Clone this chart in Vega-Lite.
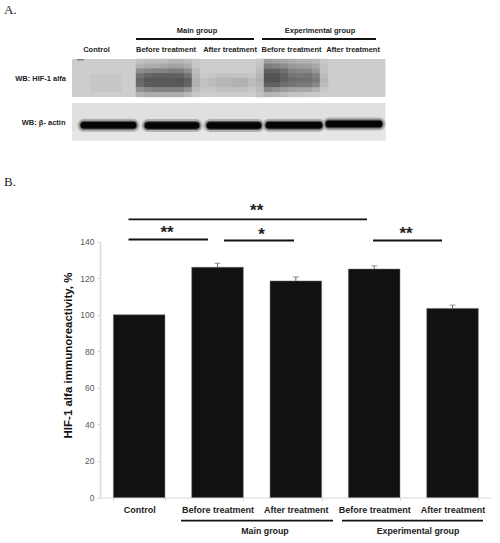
{"$schema":"https://vega.github.io/schema/vega-lite/v6.json","width":500,"height":543,"padding":0,"autosize":{"type":"none"},"background":"white","config":{"view":{"stroke":null}},
"datasets":{
"bars":[{"c":"Control","v":100},{"c":"Before treatment (Main group)","v":126,"hi":128.2},{"c":"After treatment (Main group)","v":118.5,"hi":120.7},{"c":"Before treatment (Experimental group)","v":125,"hi":126.8},{"c":"After treatment (Experimental group)","v":103.5,"hi":105.3}],
"panels":[{"x":72,"x2":385.5,"y":59,"y2":97,"v":45},{"x":90,"x2":122,"y":74,"y2":92,"v":50},{"x":77,"x2":84,"y":59,"y2":60.5,"v":120},{"x":72,"x2":385.5,"y":103,"y2":140.5,"v":28},{"x":72,"x2":385.5,"y":131,"y2":140.5,"v":22}],
"bands":[{"x":84,"x2":133,"y":125.3},{"x":148,"x2":196,"y":125.5},{"x":210,"x2":258,"y":125.5},{"x":269,"x2":319,"y":125.2},{"x":329,"x2":379,"y":124}],
"cells":[
{"x":140,"y":61.4,"v":55},{"x":148,"y":61.4,"v":60},{"x":156,"y":61.4,"v":60},{"x":164,"y":61.4,"v":60},{"x":172,"y":61.4,"v":65},{"x":180,"y":61.4,"v":65},{"x":188,"y":61.4,"v":60},{"x":196,"y":61.4,"v":50},{"x":260,"y":61.4,"v":50},{"x":268,"y":61.4,"v":90},{"x":276,"y":61.4,"v":85},{"x":284,"y":61.4,"v":80},{"x":292,"y":61.4,"v":75},{"x":300,"y":61.4,"v":70},{"x":308,"y":61.4,"v":70},{"x":316,"y":61.4,"v":65},{"x":324,"y":61.4,"v":50},
{"x":140,"y":66.1,"v":70},{"x":148,"y":66.1,"v":75},{"x":156,"y":66.1,"v":75},{"x":164,"y":66.1,"v":80},{"x":172,"y":66.1,"v":85},{"x":180,"y":66.1,"v":85},{"x":188,"y":66.1,"v":75},{"x":196,"y":66.1,"v":50},{"x":260,"y":66.1,"v":55},{"x":268,"y":66.1,"v":120},{"x":276,"y":66.1,"v":115},{"x":284,"y":66.1,"v":105},{"x":292,"y":66.1,"v":95},{"x":300,"y":66.1,"v":90},{"x":308,"y":66.1,"v":90},{"x":316,"y":66.1,"v":80},{"x":324,"y":66.1,"v":55},
{"x":140,"y":70.9,"v":105},{"x":148,"y":70.9,"v":110},{"x":156,"y":70.9,"v":115},{"x":164,"y":70.9,"v":115},{"x":172,"y":70.9,"v":120},{"x":180,"y":70.9,"v":120},{"x":188,"y":70.9,"v":105},{"x":196,"y":70.9,"v":60},{"x":260,"y":70.9,"v":60},{"x":268,"y":70.9,"v":150},{"x":276,"y":70.9,"v":150},{"x":284,"y":70.9,"v":135},{"x":292,"y":70.9,"v":115},{"x":300,"y":70.9,"v":110},{"x":308,"y":70.9,"v":110},{"x":316,"y":70.9,"v":95},{"x":324,"y":70.9,"v":55},
{"x":140,"y":75.6,"v":130},{"x":148,"y":75.6,"v":145},{"x":156,"y":75.6,"v":150},{"x":164,"y":75.6,"v":150},{"x":172,"y":75.6,"v":150},{"x":180,"y":75.6,"v":150},{"x":188,"y":75.6,"v":130},{"x":196,"y":75.6,"v":65},{"x":204,"y":75.6,"v":48},{"x":212,"y":75.6,"v":50},{"x":220,"y":75.6,"v":55},{"x":228,"y":75.6,"v":55},{"x":236,"y":75.6,"v":55},{"x":244,"y":75.6,"v":55},{"x":252,"y":75.6,"v":50},{"x":260,"y":75.6,"v":65},{"x":268,"y":75.6,"v":165},{"x":276,"y":75.6,"v":165},{"x":284,"y":75.6,"v":150},{"x":292,"y":75.6,"v":130},{"x":300,"y":75.6,"v":125},{"x":308,"y":75.6,"v":130},{"x":316,"y":75.6,"v":115},{"x":324,"y":75.6,"v":60},
{"x":140,"y":80.4,"v":145},{"x":148,"y":80.4,"v":160},{"x":156,"y":80.4,"v":160},{"x":164,"y":80.4,"v":160},{"x":172,"y":80.4,"v":160},{"x":180,"y":80.4,"v":165},{"x":188,"y":80.4,"v":150},{"x":196,"y":80.4,"v":70},{"x":204,"y":80.4,"v":55},{"x":212,"y":80.4,"v":60},{"x":220,"y":80.4,"v":65},{"x":228,"y":80.4,"v":65},{"x":236,"y":80.4,"v":70},{"x":244,"y":80.4,"v":72},{"x":252,"y":80.4,"v":60},{"x":260,"y":80.4,"v":70},{"x":268,"y":80.4,"v":165},{"x":276,"y":80.4,"v":165},{"x":284,"y":80.4,"v":150},{"x":292,"y":80.4,"v":140},{"x":300,"y":80.4,"v":135},{"x":308,"y":80.4,"v":135},{"x":316,"y":80.4,"v":125},{"x":324,"y":80.4,"v":65},
{"x":140,"y":85.1,"v":140},{"x":148,"y":85.1,"v":155},{"x":156,"y":85.1,"v":160},{"x":164,"y":85.1,"v":160},{"x":172,"y":85.1,"v":160},{"x":180,"y":85.1,"v":160},{"x":188,"y":85.1,"v":145},{"x":196,"y":85.1,"v":70},{"x":204,"y":85.1,"v":55},{"x":212,"y":85.1,"v":60},{"x":220,"y":85.1,"v":65},{"x":228,"y":85.1,"v":65},{"x":236,"y":85.1,"v":70},{"x":244,"y":85.1,"v":72},{"x":252,"y":85.1,"v":60},{"x":260,"y":85.1,"v":65},{"x":268,"y":85.1,"v":150},{"x":276,"y":85.1,"v":150},{"x":284,"y":85.1,"v":135},{"x":292,"y":85.1,"v":130},{"x":300,"y":85.1,"v":125},{"x":308,"y":85.1,"v":125},{"x":316,"y":85.1,"v":110},{"x":324,"y":85.1,"v":60},
{"x":140,"y":89.9,"v":100},{"x":148,"y":89.9,"v":110},{"x":156,"y":89.9,"v":115},{"x":164,"y":89.9,"v":115},{"x":172,"y":89.9,"v":115},{"x":180,"y":89.9,"v":115},{"x":188,"y":89.9,"v":100},{"x":196,"y":89.9,"v":60},{"x":204,"y":89.9,"v":50},{"x":212,"y":89.9,"v":50},{"x":220,"y":89.9,"v":55},{"x":228,"y":89.9,"v":55},{"x":236,"y":89.9,"v":55},{"x":244,"y":89.9,"v":55},{"x":252,"y":89.9,"v":50},{"x":260,"y":89.9,"v":60},{"x":268,"y":89.9,"v":110},{"x":276,"y":89.9,"v":100},{"x":284,"y":89.9,"v":90},{"x":292,"y":89.9,"v":85},{"x":300,"y":89.9,"v":80},{"x":308,"y":89.9,"v":80},{"x":316,"y":89.9,"v":70},{"x":324,"y":89.9,"v":50},
{"x":140,"y":94.6,"v":70},{"x":148,"y":94.6,"v":75},{"x":156,"y":94.6,"v":75},{"x":164,"y":94.6,"v":75},{"x":172,"y":94.6,"v":75},{"x":180,"y":94.6,"v":75},{"x":188,"y":94.6,"v":65},{"x":196,"y":94.6,"v":50},{"x":260,"y":94.6,"v":55},{"x":268,"y":94.6,"v":70},{"x":276,"y":94.6,"v":65},{"x":284,"y":94.6,"v":60},{"x":292,"y":94.6,"v":55},{"x":300,"y":94.6,"v":55},{"x":308,"y":94.6,"v":50},{"x":316,"y":94.6,"v":50}
],
"brackets":[{"x":136,"x2":254,"y":39},{"x":262,"x2":376,"y":39},{"x":128.5,"x2":367,"y":219.3},{"x":128.5,"x2":208,"y":239.5},{"x":224,"x2":294,"y":240.5},{"x":373,"x2":442,"y":240.5},{"x":181,"x2":333,"y":520.7},{"x":342,"x2":483,"y":520.7}],
"smallText":[{"x":197,"y":31,"t":"Main group"},{"x":320,"y":31,"t":"Experimental group"},{"x":96.5,"y":49.5,"t":"Control"},{"x":166,"y":49.5,"t":"Before treatment"},{"x":230,"y":49.5,"t":"After treatment"},{"x":291.5,"y":49.5,"t":"Before treatment"},{"x":353,"y":49.5,"t":"After treatment"}],
"rowText":[{"x":66,"y":78.5,"t":"WB: HIF-1 alfa"},{"x":65.5,"y":122.5,"t":"WB: β- actin"}],
"groupText":[{"x":265,"y":531,"t":"Main group"},{"x":418,"y":531,"t":"Experimental group"}],
"panelText":[{"x":4,"y":10,"t":"A."},{"x":4,"y":182,"t":"B."}],
"stars":[{"x":256.7,"y":211,"t":"**"},{"x":167,"y":233,"t":"**"},{"x":261.5,"y":235,"t":"*"},{"x":406,"y":234,"t":"**"}]
},
"resolve":{"scale":{"x":"independent","y":"independent"}},
"layer":[
{"encoding":{"x":{"field":"x","type":"quantitative","scale":{"domain":[0,500],"range":[0,500]},"axis":null},"y":{"field":"y","type":"quantitative","scale":{"domain":[0,543],"range":[0,543]},"axis":null}},
"layer":[
{"data":{"name":"panels"},"mark":{"type":"rect"},"encoding":{"x2":{"field":"x2"},"y2":{"field":"y2"},"color":{"field":"v","type":"quantitative","scale":{"domain":[0,255],"range":["#ffffff","#000000"]},"legend":null}}},
{"data":{"name":"cells"},"mark":{"type":"rect","width":8.4,"height":5.1},"encoding":{"color":{"field":"v","type":"quantitative","scale":{"domain":[0,255],"range":["#ffffff","#000000"]},"legend":null}}},
{"data":{"name":"bands"},"mark":{"type":"rule","color":"#b0b0b0","strokeWidth":13,"strokeCap":"round"},"encoding":{"x2":{"field":"x2"}}},
{"data":{"name":"bands"},"mark":{"type":"rule","color":"#555555","strokeWidth":9,"strokeCap":"round"},"encoding":{"x2":{"field":"x2"}}},
{"data":{"name":"bands"},"mark":{"type":"rule","color":"#050505","strokeWidth":6.5,"strokeCap":"round"},"encoding":{"x2":{"field":"x2"}}},
{"data":{"name":"brackets"},"mark":{"type":"rule","color":"#111111","strokeWidth":1.8},"encoding":{"x2":{"field":"x2"}}},
{"data":{"name":"smallText"},"mark":{"type":"text","font":"Liberation Sans","fontWeight":"bold","fontSize":7.5,"color":"#222222","align":"center","baseline":"middle"},"encoding":{"text":{"field":"t"}}},
{"data":{"name":"rowText"},"mark":{"type":"text","font":"Liberation Sans","fontWeight":"bold","fontSize":7.5,"color":"#222222","align":"right","baseline":"middle"},"encoding":{"text":{"field":"t"}}},
{"data":{"name":"groupText"},"mark":{"type":"text","font":"Liberation Sans","fontWeight":"bold","fontSize":8.8,"color":"#222222","align":"center","baseline":"middle"},"encoding":{"text":{"field":"t"}}},
{"data":{"name":"panelText"},"mark":{"type":"text","font":"Liberation Serif","fontSize":13,"color":"#222222","align":"left","baseline":"middle"},"encoding":{"text":{"field":"t"}}},
{"data":{"name":"stars"},"mark":{"type":"text","font":"Liberation Sans","fontWeight":"bold","fontSize":17,"color":"#222222","align":"center","baseline":"middle"},"encoding":{"text":{"field":"t"}}}
]},
{"data":{"name":"bars"},
"encoding":{"x":{"field":"c","type":"nominal","title":null,"scale":{"domain":["Control","Before treatment (Main group)","After treatment (Main group)","Before treatment (Experimental group)","After treatment (Experimental group)"],"range":[100,491.7],"paddingInner":0.342,"paddingOuter":0.171},"axis":{"offset":-45.5,"tickBand":"extent","labelAngle":0,"labelExpr":"split(datum.label,' (')[0]","labelFont":"Liberation Sans","labelFontWeight":"bold","labelFontSize":9,"labelColor":"#222222","labelPadding":5,"domainColor":"#d9d9d9","tickColor":"#d9d9d9","tickSize":3,"labelOverlap":false,"labelLimit":0}}},
"layer":[
{"mark":{"type":"bar","color":"#111111","stroke":"#666666","strokeWidth":0.5},"encoding":{"y":{"field":"v","type":"quantitative","title":"HIF-1 alfa immunoreactivity, %","scale":{"domain":[0,140],"range":[497.5,241.7],"nice":false},"axis":{"offset":-100,"values":[0,20,40,60,80,100,120,140],"grid":false,"domainColor":"#d9d9d9","domainWidth":1.5,"tickColor":"#d9d9d9","tickSize":3,"labelFont":"Liberation Sans","labelFontSize":8.5,"labelColor":"#595959","labelPadding":3,"titleFont":"Liberation Sans","titleFontWeight":"bold","titleFontSize":11.5,"titleColor":"#111111","titleX":-27,"titleY":355}}}},
{"transform":[{"filter":"isValid(datum.hi)"}],"mark":{"type":"rule","color":"#666666","strokeWidth":1},"encoding":{"y":{"field":"v","type":"quantitative"},"y2":{"field":"hi"}}},
{"transform":[{"filter":"isValid(datum.hi)"}],"mark":{"type":"tick","color":"#666666","size":6,"thickness":1},"encoding":{"y":{"field":"hi","type":"quantitative"}}}
]}
]}
